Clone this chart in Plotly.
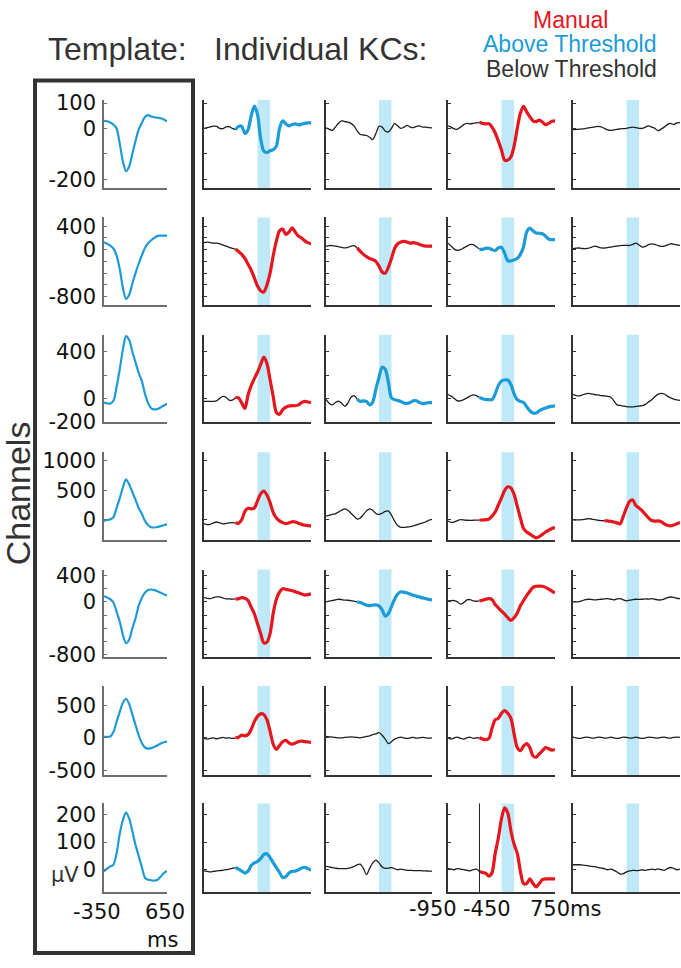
import plotly.graph_objects as go

W, H = 681, 968

# ---------------- data ----------------
TEMPLATE_X = [-350, -300, -250, -200, -150, -100, -50, 0, 50, 100, 150, 200, 250, 300, 350, 400, 450, 500, 550, 600, 650]
KC_X = [-950, -900, -850, -800, -750, -700, -650, -600, -550, -500, -450, -400, -350, -300, -250, -200, -150, -100,
        -50, 0, 50, 100, 150, 200, 250, 300, 350, 400, 450, 500, 550, 600, 650, 700, 750]

TEMPLATE_1 = [30, 28, 23, 15, 0, -60, -130, -169, -150, -100, -50, -5, 21, 45, 52, 47, 44, 42, 40, 35, 28]
TEMPLATE_2 = [128, 100, 70, 20, -100, -330, -650, -840, -770, -580, -400, -240, -100, 30, 110, 160, 200, 235, 239, 239, 239]
TEMPLATE_3 = [-36, -42, -44, -20, 100, 250, 420, 534, 500, 400, 310, 220, 150, 40, -40, -84, -94, -90, -76, -60, -44]
TEMPLATE_4 = [-22, -5, 5, 44, 200, 367, 550, 689, 600, 470, 339, 200, 100, -20, -90, -130, -133, -125, -110, -95, -78]
TEMPLATE_5 = [89, 65, 40, -10, -150, -300, -500, -627, -570, -400, -250, -60, 60, 140, 180, 188, 178, 160, 140, 115, 99]
TEMPLATE_6 = [15, 15, 20, 88, 250, 400, 540, 603, 520, 360, 200, 39, -80, -150, -167, -160, -140, -115, -90, -70, -59]
TEMPLATE_7 = [-6, 4, 12, 18, 60, 130, 180, 208, 185, 140, 90, 50, 10, -29, -36, -38, -39, -36, -25, -12, -4]

KC_ROW1 = [
    [0, 3, 6, 9, 8, 0, -1, 6, 7, 0, -5, 8, 8, -20, -5, 50, 88, 55, -40, -90, -95, -88, -84, -70, 0, 30, 18, 10, 15, 18, 14, 16, 20, 22, 22],
    [2, -3, -8, 5, 20, 30, 27, 25, 20, 10, -10, -24, -26, -28, -35, -44, -20, 8, 5, -10, -14, 0, 20, 10, 0, 5, 12, 5, 3, 8, 10, 5, 5, 3, 2],
    [10, 5, -2, -3, 5, 15, 20, 18, 20, 22, 24, 20, 18, 18, 5, -18, -50, -85, -125, -125, -112, -70, 0, 60, 87, 65, 46, 30, 27, 33, 25, 15, 20, 28, 30],
    [-5, -4, -3, -2, 0, 2, 4, 6, 8, 6, 0, -6, -8, -6, -4, -2, -1, 0, 3, 5, 3, 0, 0, 5, 10, 5, 0, -9, -3, 5, 15, 20, 15, 22, 23],
]
KC_ROW2 = [
    [120, 130, 120, 110, 110, 100, 80, 60, 40, 20, 10, -30, -80, -150, -250, -350, -480, -620, -700, -720, -600, -400, -100, 150, 320, 350, 260, 300, 370, 300, 230, 200, 150, 120, 100],
    [60, 70, 70, 60, 50, 40, 30, 40, 60, 70, 30, -30, -80, -120, -150, -170, -200, -280, -380, -400, -300, -150, 20, 100, 130, 140, 130, 110, 120, 110, 90, 70, 60, 60, 60],
    [111, 60, 10, -11, 0, 30, 60, 85, 85, 50, 10, 5, 22, 25, 0, -15, 30, 40, -60, -190, -190, -175, -150, -80, 50, 300, 367, 320, 285, 280, 270, 230, 180, 170, 172],
    [17, 25, 28, 20, 17, 25, 45, 61, 45, 30, 28, 35, 45, 56, 62, 68, 72, 72, 72, 90, 110, 80, 45, 55, 85, 100, 90, 70, 56, 60, 80, 100, 95, 80, 72],
]
KC_ROW3 = [
    [-25, -25, -25, -25, -20, 0, 18, 10, -15, -15, 8, 5, -40, -85, 30, 110, 170, 225, 290, 355, 300, 160, 15, -120, -135, -95, -75, -65, -62, -62, -55, -35, -25, -30, -36],
    [-8, -40, -55, -35, -22, -40, -67, -40, 10, 25, -5, -25, -20, -25, -55, -30, 80, 180, 268, 250, 140, 5, -10, -17, -25, -38, -42, -35, -20, -20, -35, -44, -40, -36, -36],
    [33, 20, 0, -20, -20, -10, 5, 20, 30, 25, 8, -2, -8, -10, -10, 40, 110, 150, 158, 158, 120, 40, -10, -25, -35, -70, -105, -125, -125, -105, -92, -82, -72, -67, -64],
    [33, 25, 22, 30, 40, 44, 38, 32, 30, 25, 22, 18, 10, -20, -55, -60, -65, -70, -72, -72, -68, -65, -62, -50, -30, -10, 15, 35, 44, 38, 20, 5, -5, -12, -17],
]
KC_ROW4 = [
    [-67, -85, -80, -55, -40, -55, -70, -65, -55, -50, -55, -60, 0, 140, 195, 185, 200, 320, 440, 485, 420, 290, 120, 30, -20, -50, -67, -55, -35, -40, -60, -80, -95, -100, -105],
    [61, 75, 90, 100, 130, 160, 183, 160, 110, 60, 10, 30, 90, 150, 185, 160, 105, 90, 110, 140, 150, 80, -25, -100, -130, -132, -125, -117, -105, -90, -70, -55, -35, -10, 5],
    [-22, -45, -40, -15, 0, -5, -10, -12, -10, -8, -8, -5, 0, 10, 60, 130, 250, 370, 500, 560, 540, 430, 230, 30, -150, -210, -245, -280, -310, -290, -250, -210, -180, -150, -133],
    [-5, -5, -3, 0, 10, 17, 10, 0, -10, -15, -18, -20, -30, -40, -55, -70, 60, 200, 310, 335, 240, 200, 150, 90, 30, -15, -25, -22, -35, -70, -95, -105, -90, -70, -50],
]
KC_ROW5 = [
    [64, 55, 50, 65, 75, 75, 60, 45, 45, 42, 42, 50, 64, 55, 20, -80, -180, -330, -480, -620, -610, -480, -170, 40, 150, 200, 190, 180, 170, 155, 138, 120, 104, 110, 124],
    [0, 10, 20, 30, 40, 35, 28, 25, 20, 10, 0, -10, -30, -50, -58, -50, -44, -60, -120, -215, -180, -70, 40, 120, 153, 145, 135, 118, 100, 88, 72, 60, 50, 38, 30],
    [15, 20, 20, 0, -35, -10, 30, 35, 15, 10, 15, 25, 40, 49, 35, -40, -90, -140, -185, -240, -280, -240, -170, -60, 20, 95, 160, 220, 237, 240, 237, 220, 195, 165, 138],
    [0, 0, 5, 20, 35, 40, 35, 30, 35, 40, 45, 49, 40, 30, 45, 49, 30, 15, 25, 35, 40, 38, 40, 45, 42, 48, 40, 30, 30, 45, 65, 74, 68, 55, 49],
]
KC_ROW6 = [
    [-10, -20, -10, 0, -15, -5, 5, -5, 0, -10, 0, 10, 40, 30, 50, 130, 250, 330, 370, 360, 280, 100, -100, -180, -120, -60, -40, -80, -100, -80, -60, -50, -60, -65, -70],
    [20, 15, 10, 5, 0, 0, 5, 10, 15, 10, 5, 0, 10, 20, 30, 50, 60, 80, 40, -20, -90, -60, -20, 0, 10, 0, -10, 0, 5, -5, 0, 5, 0, -5, 0],
    [0, -20, 0, 10, -10, -20, 0, 10, -10, 0, 0, -20, -30, -10, 150, 280, 300, 380, 420, 380, 300, 60, -150, -200, -130, -90, -150, -280, -300, -250, -200, -150, -170, -190, -180],
    [10, 0, -10, 0, 10, 5, -5, 0, 10, 5, -5, 0, 10, 0, -10, 0, 10, 5, -5, 0, 10, 0, -10, 0, 10, 5, 0, -5, 5, 10, 0, -5, 5, 10, 5],
]
KC_ROW7 = [
    [-4, -6, -8, -6, -4, -3, -2, 0, 2, 5, 8, 2, -5, -12, -5, 15, 25, 30, 40, 55, 58, 44, 25, 8, -10, -28, -25, -12, -6, -5, 0, 6, 9, 4, -2],
    [12, 10, 8, 6, 4, 4, 4, 5, 8, 12, 18, 20, 5, -18, 5, 25, 35, 25, 10, 5, 6, 8, 4, 0, 2, 0, -2, -2, -3, -3, -3, -4, -4, -5, -5],
    [4, 2, 0, 4, 2, 0, -2, -4, 0, 2, -6, -10, -13, -23, -10, 60, 115, 185, 224, 205, 140, 92, 60, -5, -50, -50, -33, -50, -62, -50, -36, -33, -33, -33, -33],
    [18, 18, 18, 17, 16, 14, 12, 11, 8, 6, 4, 0, 2, -2, -8, -16, -14, -8, -4, -2, -3, -2, 0, -2, 0, 2, 0, 3, 0, -2, 4, 8, 5, 0, 2],
]

TEMPLATES = [TEMPLATE_1, TEMPLATE_2, TEMPLATE_3, TEMPLATE_4, TEMPLATE_5, TEMPLATE_6, TEMPLATE_7]
KC_ROWS = [KC_ROW1, KC_ROW2, KC_ROW3, KC_ROW4, KC_ROW5, KC_ROW6, KC_ROW7]

# detection class per individual KC: M = manual, A = above threshold, B = below threshold
KC_CLASS = [
    ["A", "B", "M", "B"],
    ["M", "M", "A", "B"],
    ["M", "A", "A", "B"],
    ["M", "B", "M", "M"],
    ["M", "A", "M", "B"],
    ["M", "B", "M", "B"],
    ["A", "B", "M", "B"],
]

ROW_RANGE = [[-235, 112], [-950, 550], [-200, 545], [-350, 1150], [-830, 490], [-575, 800], [-82, 240]]
ROW_TICKS = [
    [100, 0, -100, -200],
    [400, 200, 0, -200, -400, -600, -800],
    [400, 200, 0, -200],
    [1000, 500, 0],
    [400, 200, 0, -200, -400, -600, -800],
    [500, 0, -500],
    [200, 100, 0],
]
ROW_TICKTEXT = [
    ["100", "0", "", "-200"],
    ["400", "", "0", "", "", "", "-800"],
    ["400", "", "0", "-200"],
    ["1000", "500", "0"],
    ["400", "", "0", "", "", "", "-800"],
    ["500", "0", "-500"],
    ["200", "100", "0"],
]

TEMPLATE_RANGE = [-350, 650]
KC_RANGE = [-950, 750]
BAND = [-100, 100]
SPLIT = -450
MARKER_LINE_MS = -450

# ---------------- style ----------------
RED = "#e5161d"
BLUE = "#1b9bd7"
TBLUE = "#1f9ad6"
BLACK = "#1e1e1e"
BANDC = "#bfe9f8"
TXT = "#333333"
FONT = "Liberation Sans, Arial, sans-serif"
NUMF = "DejaVu Sans, Liberation Sans, sans-serif"

COL_X = [(104, 167), (204, 311), (326, 432), (448, 555), (573, 680)]
ROW_Y = [(93, 183), (213, 303), (333, 422), (453, 543), (573, 662), (692, 783), (812, 903)]


def fx(px):
    return px / W


def fy(py):
    return 1 - py / H


fig = go.Figure()
layout = {}
shapes = []

for r in range(7):
    for c in range(5):
        p = r * 5 + c + 1
        xs = "" if p == 1 else str(p)
        xname, yname = "x" + xs, "y" + xs
        x0, x1 = COL_X[c]
        y0, y1 = ROW_Y[r]
        is_t = c == 0
        axcol = "#6e6e6e" if is_t else "#333333"
        layout["xaxis" + xs] = dict(
            domain=[fx(x0), fx(x1)], anchor=yname,
            range=TEMPLATE_RANGE if is_t else KC_RANGE,
            showline=True, linecolor=axcol, linewidth=1.5,
            showgrid=False, zeroline=False, ticks="", showticklabels=False,
        )
        layout["yaxis" + xs] = dict(
            domain=[fy(y1), fy(y0)], anchor=xname,
            range=ROW_RANGE[r],
            showline=True, linecolor=axcol, linewidth=1.5,
            showgrid=False, zeroline=False,
            ticks="inside", ticklen=3, tickwidth=1, tickcolor=axcol,
            tickvals=ROW_TICKS[r],
            ticktext=ROW_TICKTEXT[r] if is_t else [""] * len(ROW_TICKS[r]),
            showticklabels=is_t,
            tickfont=dict(family=NUMF, size=21, color="#111111"),
            ticklabelstandoff=2,
        )
        if is_t:
            fig.add_trace(go.Scatter(
                x=TEMPLATE_X, y=TEMPLATES[r], mode="lines", xaxis=xname, yaxis=yname,
                line=dict(color=TBLUE, width=2.2, shape="spline", smoothing=0.8),
                hoverinfo="skip", showlegend=False))
        else:
            k = c - 1
            ys = KC_ROWS[r][k]
            cls = KC_CLASS[r][k]
            shapes.append(dict(type="rect", xref=xname, yref=yname + " domain",
                               x0=BAND[0], x1=BAND[1], y0=0, y1=1,
                               fillcolor=BANDC, line=dict(width=0), layer="below"))
            if cls == "B":
                fig.add_trace(go.Scatter(
                    x=KC_X, y=ys, mode="lines", xaxis=xname, yaxis=yname,
                    line=dict(color=BLACK, width=1.3, shape="spline", smoothing=0.8),
                    hoverinfo="skip", showlegend=False))
            else:
                bx = [x for x in KC_X if x <= SPLIT]
                by = ys[:len(bx)]
                cx = [x for x in KC_X if x >= SPLIT]
                cy = ys[len(KC_X) - len(cx):]
                fig.add_trace(go.Scatter(
                    x=bx, y=by, mode="lines", xaxis=xname, yaxis=yname,
                    line=dict(color=BLACK, width=1.3, shape="spline", smoothing=0.8),
                    hoverinfo="skip", showlegend=False))
                fig.add_trace(go.Scatter(
                    x=cx, y=cy, mode="lines", xaxis=xname, yaxis=yname,
                    line=dict(color=RED if cls == "M" else BLUE, width=3.2, shape="spline", smoothing=0.8),
                    hoverinfo="skip", showlegend=False))

# vertical marker in the bottom row, third individual KC
shapes.append(dict(type="line", xref="x34", yref="y34 domain",
                   x0=MARKER_LINE_MS, x1=MARKER_LINE_MS, y0=0, y1=1,
                   line=dict(color="#222222", width=1)))

# template frame
shapes.append(dict(type="rect", xref="paper", yref="paper",
                   x0=fx(35), x1=fx(193), y0=fy(965), y1=fy(73),
                   line=dict(color="#333333", width=4), fillcolor="rgba(0,0,0,0)"))


def ann(text, px, py, size, color=TXT, xanchor="center", angle=0, family=FONT):
    return dict(text=text, x=fx(px), y=fy(py), xref="paper", yref="paper",
                xanchor=xanchor, yanchor="middle", showarrow=False, textangle=angle,
                font=dict(family=family, size=size, color=color))


annotations = [
    ann("Template:", 117, 41, 32),
    ann("Individual KCs:", 320, 41, 32),
    ann("Manual", 570, 11, 23, RED),
    ann("Above Threshold", 569, 36, 23, BLUE),
    ann("Below Threshold", 571, 61, 23, TXT),
    ann("Channels", 18, 495, 34, TXT, angle=-90),
    ann("-350", 97, 923, 21, "#111111", family=NUMF),
    ann("650", 165, 923, 21, "#111111", family=NUMF),
    ann("ms", 162, 952, 21, "#111111", family=NUMF),
    ann("μV", 65, 885, 21, "#333333", family=NUMF),
    ann("-950", 433, 920, 21, "#111111", family=NUMF),
    ann("-450", 487, 920, 21, "#111111", family=NUMF),
    ann("750ms", 528, 920, 21, "#111111", xanchor="left", family=NUMF),
]

fig.update_layout(
    width=W, height=H, margin=dict(l=0, r=0, t=0, b=0),
    paper_bgcolor="white", plot_bgcolor="white",
    shapes=shapes, annotations=annotations, showlegend=False,
    **layout,
)

PAGE_FIX = (
    "document.documentElement.style.cssText='margin:0;padding:0;overflow:hidden;';"
    "document.body.style.cssText='margin:0;padding:0;overflow:hidden;font-size:0;line-height:0;';"
)

fig.write_html("out.html", config={"displayModeBar": False}, post_script=PAGE_FIX)
